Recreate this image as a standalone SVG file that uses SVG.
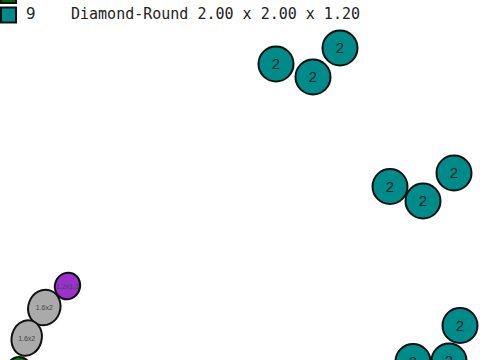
<svg xmlns="http://www.w3.org/2000/svg" width="480" height="360" viewBox="0 0 480 360">
<style>
.c{fill:#008b8b;stroke:#111;stroke-width:2}
.cl{font-family:"Liberation Sans",Arial,sans-serif;font-size:15px;fill:#222;text-anchor:middle}
.e{stroke:#111;stroke-width:2}
.el{font-family:"Liberation Sans",Arial,sans-serif;font-size:7px;fill:#444;text-anchor:middle}
.mono{font-family:"DejaVu Sans Mono","Liberation Mono",monospace;font-size:15px;fill:#222}
</style>
<rect width="480" height="360" fill="#fff"/>
<g id="legend">
<rect x="1" y="-12" width="15" height="15" fill="#006400" stroke="#111" stroke-width="2"/>
<rect x="1" y="7.5" width="15" height="15" fill="#008b8b" stroke="#111" stroke-width="2"/>
<text x="26" y="18.5" style="font-family:'DejaVu Sans',sans-serif;font-size:15px;fill:#222">9</text>
<text x="71" y="18.5" class="mono">Diamond-Round 2.00 x 2.00 x 1.20</text>
</g>
<g id="g1a"><circle class="c" cx="276" cy="64" r="17.5"/><text class="cl" x="276" y="69">2</text></g>
<g id="g1b"><circle class="c" cx="313" cy="77" r="17.5"/><text class="cl" x="313" y="82">2</text></g>
<g id="g1c"><circle class="c" cx="340" cy="48" r="17.5"/><text class="cl" x="340" y="53">2</text></g>
<g id="g2a"><circle class="c" cx="390" cy="186.5" r="17.5"/><text class="cl" x="390" y="191.5">2</text></g>
<g id="g2b"><circle class="c" cx="423" cy="201" r="17.5"/><text class="cl" x="423" y="206">2</text></g>
<g id="g2c"><circle class="c" cx="454" cy="173" r="17.5"/><text class="cl" x="454" y="178">2</text></g>
<g id="g3a"><circle class="c" cx="460" cy="325.5" r="17.5"/><text class="cl" x="460" y="330.5">2</text></g>
<g id="g3b"><circle class="c" cx="413" cy="361.5" r="17.5"/><text class="cl" x="413" y="366.5">2</text></g>
<g id="g3c"><circle class="c" cx="449" cy="361" r="17.5"/><text class="cl" x="449" y="366">2</text></g>
<g id="e1"><ellipse class="e" cx="67.5" cy="286" rx="12.5" ry="13.5" fill="#9932cc" transform="rotate(25 67.5 286)"/><text class="el" x="67.5" y="288.5" font-size="5">1.2x1.2</text></g>
<g id="e2"><ellipse class="e" cx="44.3" cy="307.5" rx="16" ry="18" fill="#aaa" transform="rotate(20 44.3 307.5)"/><text class="el" x="44.3" y="310">1.6x2</text></g>
<g id="e3"><ellipse class="e" cx="26.7" cy="338" rx="15" ry="18" fill="#aaa" transform="rotate(15 26.7 338)"/><text class="el" x="26.7" y="340.5">1.6x2</text></g>
<g id="e4"><ellipse class="e" cx="19" cy="372" rx="13" ry="15" fill="#008000"/></g>
</svg>
